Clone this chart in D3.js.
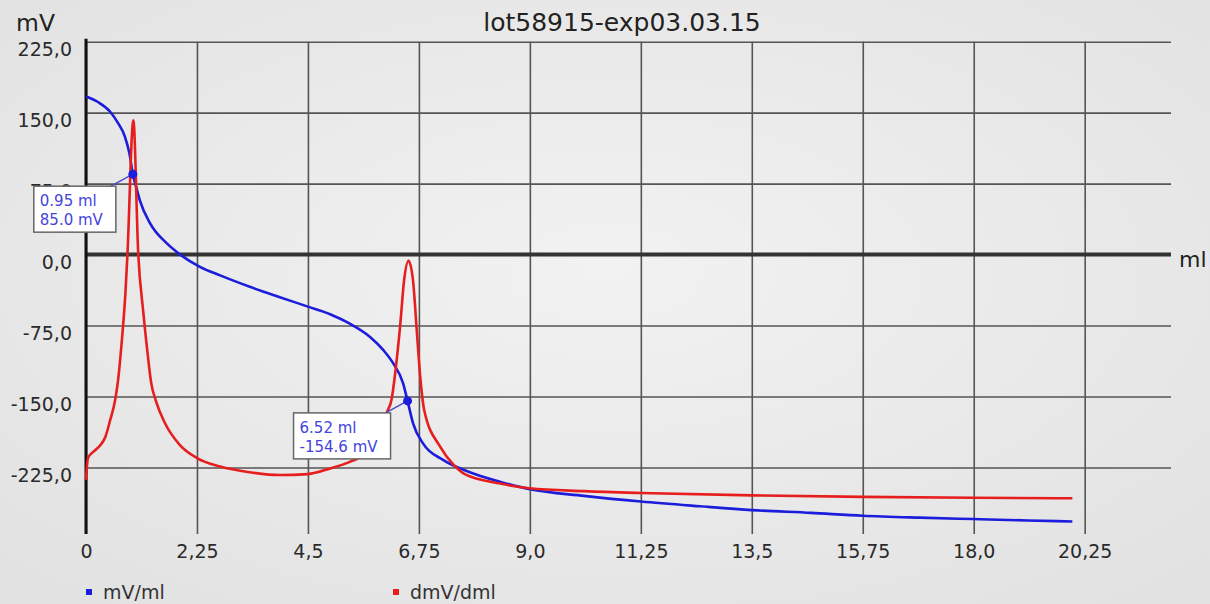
<!DOCTYPE html>
<head>
  <meta charset="utf-8">
  <script src="https://d3js.org/d3.v7.min.js"></script>
  <style>
    body { margin:0; background:#ebebeb; }
    text { font-family: "DejaVu Sans", Verdana, sans-serif; }
  </style>
</head>
<body>
<script>
  // titration curve: potential vs volume
  var blueMl = [0, 0.25, 0.49, 0.65, 0.79, 0.88, 0.95, 1.02, 1.09, 1.3, 1.64, 1.91, 2.31, 2.72, 3.32, 3.93, 4.5, 4.95, 5.35, 5.76, 6.03, 6.23, 6.43, 6.52, 6.63, 6.84, 7.24, 7.78, 8.39, 9.0, 10.1, 11.25, 12.45, 13.5, 14.7, 15.75, 16.9, 18.0, 19.1, 20.0];
  var blueMv = [167, 161, 151, 139, 124.5, 107, 85, 71, 57.6, 33, 11.8, 0, -12.9, -22, -34, -45, -55, -63, -73, -87, -101, -115, -136, -154.6, -178, -200, -217, -230, -240, -248, -255, -261, -266, -270, -273, -276, -278, -279.5, -281, -282];

  // first derivative (scaled)
  var redMl = [0, 0.04, 0.18, 0.28, 0.39, 0.49, 0.59, 0.65, 0.72, 0.80, 0.84, 0.96, 1.06, 1.16, 1.25, 1.32, 1.42, 1.6, 1.9, 2.25, 2.72, 3.32, 3.93, 4.5, 4.95, 5.35, 5.55, 5.8, 6.0, 6.09, 6.2, 6.27, 6.37, 6.45, 6.54, 6.63, 6.7, 6.77, 6.86, 7.18, 7.45, 7.68, 8.4, 9.0, 10.1, 11.25, 13.5, 15.75, 18.0, 20.0];
  var redDv = [-238, -215, -207, -202, -193, -175, -154, -133, -95, -40, 0, 142, 0, -60, -105, -135, -155, -178, -201, -215, -224, -230, -233, -232, -226, -219, -214, -200, -182, -168, -152, -125, -75, -27, -6.5, -27, -75, -125, -165, -203, -222, -232, -242, -247, -250, -252, -254.5, -256, -257, -257.5];

  var xTicks = [0, 2.25, 4.5, 6.75, 9, 11.25, 13.5, 15.75, 18, 20.25];
  var xTickLabels = ["0", "2,25", "4,5", "6,75", "9,0", "11,25", "13,5", "15,75", "18,0", "20,25"];
  var yTicks = [225, 150, 75, 0, -75, -150, -225];
  var yTickLabels = ["225,0", "150,0", "75,0", "0,0", "-75,0", "-150,0", "-225,0"];

  var annMl = [0.95, 6.52];
  var annMv = [85.0, -154.6];

  var seriesNames = ["mV/ml", "dmV/dml"];

  var width = 1210, height = 604;
  var plotLeft = 86, plotRight = 1171, plotTop = 41.7, plotBottom = 534;

  var blue = "#1c1cdc", red = "#e61e1e";

  var svg = d3.select("body").append("svg")
    .attr("width", width)
    .attr("height", height);

  var grad = svg.append("defs").append("radialGradient")
    .attr("id", "bg").attr("cx", "50%").attr("cy", "45%").attr("r", "70%");
  grad.append("stop").attr("offset", "0%").attr("stop-color", "#f2f2f2");
  grad.append("stop").attr("offset", "100%").attr("stop-color", "#e2e2e2");
  svg.append("rect").attr("width", width).attr("height", height).attr("fill", "url(#bg)");

  var x = d3.scaleLinear().domain([0, 22]).range([plotLeft, plotRight]);
  var y = d3.scaleLinear().domain([-225, 225]).range([467.5, plotTop]);

  // vertical grid + x labels
  var xAxis = svg.append("g")
    .attr("transform", "translate(0," + plotBottom + ")")
    .call(d3.axisBottom(x)
      .tickValues(xTicks)
      .tickSize(-(plotBottom - plotTop))
      .tickPadding(11)
      .tickFormat(function(d, i) { return xTickLabels[i]; }));
  xAxis.select(".domain").remove();
  xAxis.selectAll("line").attr("stroke", "#555").attr("stroke-width", 1.6);
  xAxis.selectAll("text").attr("fill", "#2a2a2a").style("font-size", "19px");

  // horizontal grid + y labels
  var yAxis = svg.append("g")
    .attr("transform", "translate(" + plotLeft + ",0)")
    .call(d3.axisLeft(y)
      .tickValues(yTicks)
      .tickSize(-(plotRight - plotLeft))
      .tickPadding(14)
      .tickFormat(function(d, i) { return yTickLabels[i]; }));
  yAxis.select(".domain").remove();
  yAxis.selectAll("line").attr("stroke", "#555").attr("stroke-width", 1.6);
  yAxis.selectAll("text").attr("fill", "#2a2a2a").attr("y", 8).style("font-size", "19px");

  // zero line and y axis line
  svg.append("line")
    .attr("x1", plotLeft).attr("x2", plotRight)
    .attr("y1", y(0)).attr("y2", y(0))
    .attr("stroke", "#333").attr("stroke-width", 4);
  svg.append("line")
    .attr("x1", plotLeft).attr("x2", plotLeft)
    .attr("y1", plotTop - 3).attr("y2", plotBottom)
    .attr("stroke", "#111").attr("stroke-width", 3);

  var line = d3.line()
    .x(function(d) { return x(d[0]); })
    .y(function(d) { return y(d[1]); })
    .curve(d3.curveMonotoneX);

  svg.append("path")
    .datum(blueMl.map(function(v, i) { return [v, blueMv[i]]; }))
    .attr("d", line)
    .attr("fill", "none").attr("stroke", blue).attr("stroke-width", 2.6);

  svg.append("path")
    .datum(redMl.map(function(v, i) { return [v, redDv[i]]; }))
    .attr("d", line)
    .attr("fill", "none").attr("stroke", red).attr("stroke-width", 2.6);

  // titles
  svg.append("text")
    .attr("x", 622).attr("y", 31)
    .attr("text-anchor", "middle")
    .attr("fill", "#222")
    .style("font-size", "25px")
    .text("lot58915-exp03.03.15");
  svg.append("text")
    .attr("x", 16).attr("y", 31)
    .attr("fill", "#222")
    .style("font-size", "23.5px")
    .text("mV");
  svg.append("text")
    .attr("x", 1179).attr("y", 267)
    .attr("fill", "#222")
    .style("font-size", "22px")
    .text("ml");

  // annotation boxes at the equivalence points
  annMl.forEach(function(ml, i) {
    var px = x(ml), py = y(annMv[i]);
    var g = svg.append("g");
    var lines = [ml.toFixed(2) + " ml", annMv[i].toFixed(1) + " mV"];
    var boxTop = py + 12, boxRight = px - 17;
    var conn = g.append("line").attr("stroke", "#4a4acc").attr("stroke-width", 1.5);
    var box = g.append("rect").attr("fill", "#fff").attr("stroke", "#666").attr("stroke-width", 1.5);
    var t = g.selectAll(".lbl").data(lines).enter().append("text")
      .attr("class", "lbl")
      .attr("fill", "#4444dd")
      .style("font-size", "15px")
      .text(function(d) { return d; });
    var w = d3.max(t.nodes(), function(n) { return n.getComputedTextLength(); }) + 19;
    var boxLeft = boxRight - w;
    box.attr("x", boxLeft).attr("y", boxTop).attr("width", w).attr("height", 46);
    t.attr("x", boxLeft + 6).attr("y", function(d, j) { return boxTop + 20 + j * 19; });
    conn.attr("x1", boxRight - 5).attr("y1", boxTop).attr("x2", px).attr("y2", py);
    g.append("circle").attr("cx", px).attr("cy", py).attr("r", 4.5).attr("fill", blue);
  });

  // legend
  var legX = [86, 393];
  var legend = svg.selectAll(".leg").data(seriesNames).enter().append("g")
    .attr("class", "leg")
    .attr("transform", function(d, i) { return "translate(" + legX[i] + ",592)"; });
  legend.append("rect")
    .attr("x", 0).attr("y", -3).attr("width", 6).attr("height", 6)
    .attr("fill", function(d, i) { return i ? red : blue; });
  legend.append("text")
    .attr("x", 17).attr("y", 7)
    .attr("fill", "#333")
    .style("font-size", "19px")
    .text(function(d) { return d; });
</script>
</body>
